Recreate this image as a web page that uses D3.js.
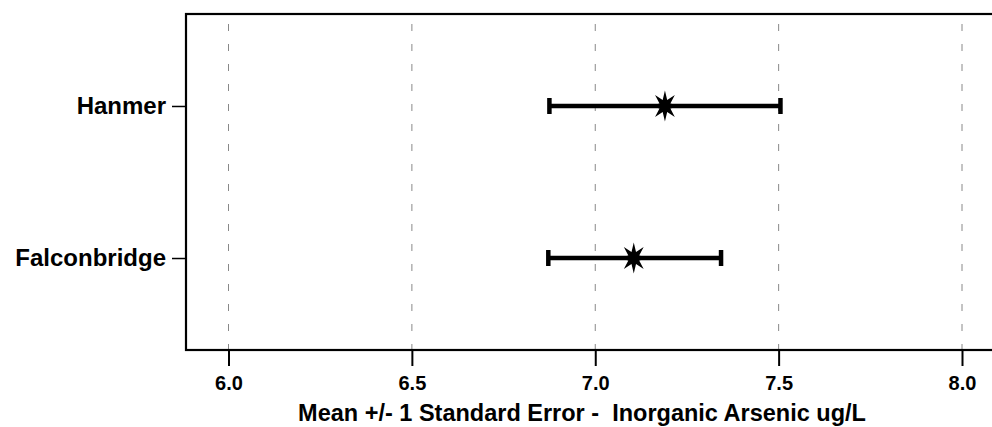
<!DOCTYPE html>
<html>
<head>
<meta charset="utf-8">
<script src="https://cdn.jsdelivr.net/npm/d3@7"></script>
<style>
  body { margin: 0; background: #fff; }
  text { font-family: "Liberation Sans", Arial, sans-serif; font-weight: bold; fill: #000; }
</style>
</head>
<body>
<div id="app"></div>
<script>
// data
const sites = ["Hanmer", "Falconbridge"];
const means = [7.19, 7.105];
const lower = [6.875, 6.872];
const upper = [7.505, 7.343];
const xTicks = [6.0, 6.5, 7.0, 7.5, 8.0];

const width = 992
    , height = 427
    , plotLeft = 186
    , plotTop = 14
    , plotBottom = 350
    , plotRight = 1010;

const svg = d3.select("#app").append("svg")
    .attr("width", width)
    .attr("height", height);

const x = d3.scaleLinear().domain([6, 8]).range([228.5, 962]);
const y = d3.scalePoint().domain(sites).range([plotTop, plotBottom]).padding(0.605);

// grid
svg.append("g")
  .selectAll("line")
    .data(xTicks)
  .enter().append("line")
    .attr("x1", d => x(d)).attr("x2", d => x(d))
    .attr("y1", plotTop).attr("y2", plotBottom)
    .attr("stroke", "#888")
    .attr("stroke-width", 1)
    .attr("stroke-dasharray", "7,13")
    .attr("stroke-dashoffset", -10);

// frame
svg.append("rect")
    .attr("x", plotLeft).attr("y", plotTop)
    .attr("width", plotRight - plotLeft).attr("height", plotBottom - plotTop)
    .attr("fill", "none")
    .attr("stroke", "#000")
    .attr("stroke-width", 2.2);

// x axis
const xAxis = svg.append("g")
    .attr("transform", `translate(0,${plotBottom})`)
    .call(d3.axisBottom(x).tickValues(xTicks).tickFormat(d3.format(".1f")).tickSize(16).tickPadding(10));
xAxis.select(".domain").remove();
xAxis.selectAll(".tick line").attr("stroke", "#000").attr("stroke-width", 2);
xAxis.selectAll(".tick text").style("font-size", "20px").attr("fill", "#000");

// y axis
const yAxis = svg.append("g")
    .attr("transform", `translate(${plotLeft},0)`)
    .call(d3.axisLeft(y).tickSize(14).tickPadding(6));
yAxis.select(".domain").remove();
yAxis.selectAll(".tick line").attr("stroke", "#000").attr("stroke-width", 1.5);
yAxis.selectAll(".tick text").style("font-size", "24px").attr("fill", "#000");

// x title
svg.append("text")
    .attr("x", 582).attr("y", 421)
    .attr("text-anchor", "middle")
    .attr("xml:space", "preserve")
    .style("font-size", "23.5px")
    .text("Mean +/- 1 Standard Error -  Inorganic Arsenic ug/L");

// error bars
const bars = svg.append("g")
  .selectAll("g")
    .data(sites)
  .enter().append("g");

bars.append("line")
    .attr("x1", (d, i) => x(lower[i])).attr("x2", (d, i) => x(upper[i]))
    .attr("y1", d => y(d)).attr("y2", d => y(d))
    .attr("stroke", "#000").attr("stroke-width", 4.5);

bars.selectAll(".cap")
    .data((d, i) => [lower[i], upper[i]].map(v => ({ v, s: d })))
  .enter().append("line")
    .attr("class", "cap")
    .attr("x1", d => x(d.v)).attr("x2", d => x(d.v))
    .attr("y1", d => y(d.s) - 8).attr("y2", d => y(d.s) + 8)
    .attr("stroke", "#000").attr("stroke-width", 4.5);

// 8-point star marker
function star(rx, ry, ri) {
  const pts = [];
  for (let k = 0; k < 16; k++) {
    const a = -Math.PI / 2 + k * Math.PI / 8;
    const r = k % 2 === 0 ? 1 : ri;
    pts.push([Math.cos(a) * r * rx, Math.sin(a) * r * ry]);
  }
  return "M" + pts.map(p => p.join(",")).join("L") + "Z";
}

bars.append("path")
    .attr("d", star(14, 15.5, 0.42))
    .attr("transform", (d, i) => `translate(${x(means[i])},${y(d)})`)
    .attr("fill", "#000");
</script>
</body>
</html>
